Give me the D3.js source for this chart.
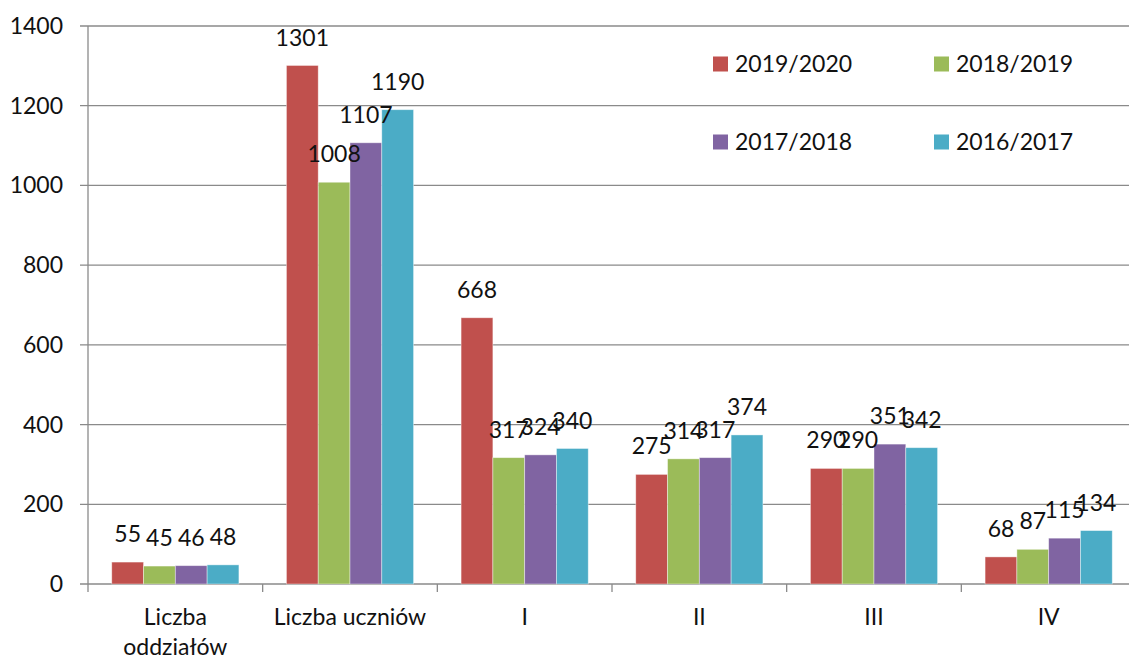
<!DOCTYPE html>
<html><head><meta charset="utf-8">
<script src="https://cdn.jsdelivr.net/npm/d3@7"></script>
<style>body{margin:0;background:#fff}svg{display:block}text{font-family:Lato,"Open Sans",sans-serif;fill:#111}</style>
</head><body><svg id="c" width="1129" height="660"></svg>
<script>
const categories = [["Liczba","oddziałów"],["Liczba uczniów"],["I"],["II"],["III"],["IV"]];
const seriesNames = ["2019/2020","2018/2019","2017/2018","2016/2017"];
const seriesColors = ["#C0504D","#9BBB59","#8064A2","#4BACC6"];
const s2019 = [55,1301,668,275,290,68];
const s2018 = [45,1008,317,314,290,87];
const s2017 = [46,1107,324,317,351,115];
const s2016 = [48,1190,340,374,342,134];
const yTicks = [0,200,400,600,800,1000,1200,1400];
const series = [s2019,s2018,s2017,s2016];

const svg = d3.select("#c");
const L=88,R=1136,T=26,B=584;
const x = d3.scaleBand().domain(d3.range(categories.length)).range([L,R]).padding(0);
const bw = x.bandwidth();
const xs = d3.scaleBand().domain(d3.range(series.length)).range([bw*0.136,bw*0.864]).padding(0);
const y = d3.scaleLinear().domain([0,1400]).range([B,T]);

svg.append("g").selectAll("line").data(yTicks).join("line")
  .attr("x1",L-8).attr("x2",R).attr("y1",d=>y(d)).attr("y2",d=>y(d))
  .attr("stroke","#8a8a8a").attr("stroke-width",1.3);
svg.append("line").attr("x1",L).attr("x2",L).attr("y1",T).attr("y2",B).attr("stroke","#8a8a8a").attr("stroke-width",1.3);
svg.append("g").selectAll("text").data(yTicks).join("text")
  .attr("x",63).attr("y",d=>y(d)).attr("dy","0.35em").attr("text-anchor","end")
  .style("font-size","23px").text(d=>d);
svg.append("g").selectAll("line").data(d3.range(categories.length+1)).join("line")
  .attr("x1",i=>L+i*bw).attr("x2",i=>L+i*bw).attr("y1",B).attr("y2",B+8)
  .attr("stroke","#8a8a8a").attr("stroke-width",1.3);

const legPos = [[713,64],[934,64],[713,142],[934,142]];
const lg = svg.append("g").selectAll("g").data(seriesNames).join("g")
  .attr("transform",(d,i)=>`translate(${legPos[i][0]},${legPos[i][1]})`);
lg.append("rect").attr("x",0).attr("y",-7.5).attr("width",15).attr("height",15).attr("fill",(d,i)=>seriesColors[i]);
lg.append("text").attr("x",22).attr("y",0).attr("dy","0.35em").style("font-size","23px").text(d=>d);

const groups = svg.append("g").selectAll("g").data(categories).join("g")
  .attr("transform",(d,i)=>`translate(${x(i)},0)`);
series.forEach((s,si)=>{
  groups.append("rect")
    .attr("x",xs(si)).attr("width",xs.bandwidth())
    .attr("y",(d,ci)=>y(s[ci])).attr("height",(d,ci)=>B-y(s[ci]))
    .attr("fill",seriesColors[si]).attr("stroke","rgba(255,255,255,0.5)").attr("stroke-width",0.8);
});
series.forEach((s,si)=>{
  groups.append("text")
    .attr("x",xs(si)+xs.bandwidth()/2).attr("y",(d,ci)=>y(s[ci])-28).attr("dy","0.35em")
    .attr("text-anchor","middle").style("font-size","23px").text((d,ci)=>s[ci]);
});
groups.each(function(d,i){
  const t = d3.select(this).append("text").attr("text-anchor","middle").style("font-size","23px");
  d.forEach((line,li)=>t.append("tspan").attr("x",bw/2).attr("y",625+li*30).text(line));
});
</script></body></html>
